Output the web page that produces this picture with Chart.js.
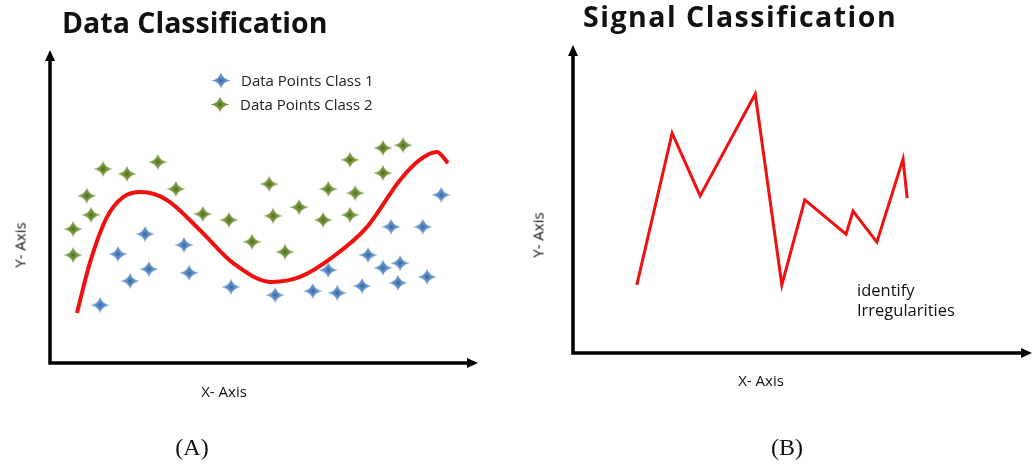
<!DOCTYPE html>
<html>
<head>
<meta charset="utf-8">
<script src="https://cdn.jsdelivr.net/npm/chart.js@4.4.1/dist/chart.umd.min.js"></script>
<style>
  html, body { margin: 0; padding: 0; background: #fff; }
  #page { position: relative; width: 1032px; height: 467px; overflow: hidden; background: #fff; font-family: "Open Sans", "Liberation Sans", sans-serif; }
  .box { position: absolute; top: 0; width: 516px; height: 467px; }
  .t { position: absolute; white-space: nowrap; color: #111; line-height: 1; }
  .title { font-weight: bold; }
  .lbl { font-size: 15px; }
  .cap { font-family: "Liberation Serif", "DejaVu Serif", serif; font-size: 24px; }
  .leg { position: absolute; display: flex; align-items: center; font-size: 15px; color: #222; white-space: nowrap; }
  .leg img { margin-right: 10px; }
</style>
</head>
<body>
<div id="page">
  <div class="box" style="left:0"><canvas id="ca"></canvas></div>
  <div class="box" style="left:516px"><canvas id="cb"></canvas></div>

  <div class="t title" style="left:62px; top:22px; font-size:28.5px; transform:translateY(-50%);">Data Classification</div>
  <div class="t title" style="left:583px; top:16px; font-size:28.5px; letter-spacing:1.5px; transform:translateY(-50%);">Signal Classification</div>

  <div class="leg" id="leg1" style="left:211px; top:80px; transform:translateY(-50%);"><span>Data Points Class 1</span></div>
  <div class="leg" id="leg2" style="left:210px; top:104px; transform:translateY(-50%);"><span>Data Points Class 2</span></div>

  <div class="t lbl" style="left:224px; top:391px; transform:translate(-50%,-50%);">X- Axis</div>
  <div class="t lbl" style="left:20px; top:245px; transform:translate(-50%,-50%) rotate(-90deg);">Y- Axis</div>
  <div class="t lbl" style="left:761px; top:380px; transform:translate(-50%,-50%);">X- Axis</div>
  <div class="t lbl" style="left:538px; top:235px; transform:translate(-50%,-50%) rotate(-90deg);">Y- Axis</div>

  <div class="t lbl" style="left:857px; top:290px; font-size:16.5px; transform:translateY(-50%);">identify</div>
  <div class="t lbl" style="left:857px; top:310px; font-size:16.5px; transform:translateY(-50%);">Irregularities</div>

  <div class="t cap" style="left:192px; top:447px; transform:translate(-50%,-50%);">(A)</div>
  <div class="t cap" style="left:787px; top:447px; transform:translate(-50%,-50%);">(B)</div>
</div>

<script>
// ---- Data (A): classification points and decision curve ----
const class1X = [22.2, 31.3, 15.9, 23.1, 32.5, 18.7, 11.7, 42.3, 52.6, 61.4, 67.1, 65.0, 72.9, 74.3, 77.8, 81.8, 81.3, 88.1, 79.7, 87.1, 91.4];
const class1Y = [41.2, 37.7, 34.8, 30.0, 28.8, 26.2, 18.5, 24.3, 21.7, 23.0, 22.4, 29.7, 24.6, 34.5, 30.4, 31.9, 25.6, 27.5, 43.5, 43.5, 53.7];

const class2X = [12.4, 18.0, 25.2, 29.4, 51.2, 65.0, 70.1, 77.8, 82.5, 77.8, 71.3, 8.6, 9.6, 5.4, 5.4, 35.7, 41.8, 52.1, 58.2, 63.8, 70.1, 47.2, 54.9];
const class2Y = [62.0, 60.4, 64.2, 55.6, 57.2, 55.6, 64.9, 68.7, 69.6, 60.7, 54.3, 53.4, 47.3, 42.8, 34.5, 47.6, 45.7, 47.0, 49.8, 45.7, 47.3, 38.7, 35.5];

const curveX = [6.3, 9.3, 13.3, 17.1, 21.3, 27.3, 35.0, 42.8, 51.9, 58.4, 66.1, 74.1, 81.8, 86.4, 90.4, 93.0];
const curveY = [16.0, 31.9, 46.6, 53.0, 54.6, 52.1, 42.5, 31.9, 25.9, 27.5, 33.9, 43.5, 58.5, 64.9, 67.4, 63.9];

// ---- Data (B): signal ----
const signalX = [13.9, 21.6, 27.7, 39.7, 45.5, 50.5, 59.5, 61.0, 66.2, 71.9, 72.8];
const signalY = [22.1, 71.4, 51.0, 84.1, 22.1, 49.7, 38.6, 46.1, 36.0, 63.0, 50.3];

const seriesNames = ["Data Points Class 1", "Data Points Class 2"];

function zip(xs, ys) { return xs.map((x, i) => ({ x: x, y: ys[i] })); }

function makeStar(outer, inner) {
  const w = 20, h = 17;
  const c = document.createElement('canvas');
  c.width = w; c.height = h;
  const g = c.getContext('2d');
  const cx = w / 2, cy = h / 2;
  const grad = g.createRadialGradient(cx, cy, 0, cx, cy, 9);
  grad.addColorStop(0, inner);
  grad.addColorStop(0.35, outer);
  grad.addColorStop(1, outer);
  g.fillStyle = grad;
  g.beginPath();
  const rx = w / 2 - 0.5, ry = h / 2 - 0.5, r = 1.6;
  g.moveTo(cx, cy - ry);
  g.quadraticCurveTo(cx + r, cy - r, cx + rx, cy);
  g.quadraticCurveTo(cx + r, cy + r, cx, cy + ry);
  g.quadraticCurveTo(cx - r, cy + r, cx - rx, cy);
  g.quadraticCurveTo(cx - r, cy - r, cx, cy - ry);
  g.closePath();
  g.fill();
  return c;
}
const blueStar = makeStar('#5b8fca', '#3a5f8c');
const greenStar = makeStar('#73963a', '#4b6623');

function addLegendStar(id, star) {
  const img = document.createElement('img');
  img.src = star.toDataURL();
  img.width = star.width; img.height = star.height;
  const el = document.getElementById(id);
  el.insertBefore(img, el.firstChild);
}
addLegendStar('leg1', blueStar);
addLegendStar('leg2', greenStar);

const arrowAxes = {
  id: 'arrowAxes',
  beforeDatasetsDraw(chart, args, opts) {
    const a = chart.chartArea, ctx = chart.ctx;
    ctx.save();
    ctx.strokeStyle = '#000';
    ctx.fillStyle = '#000';
    ctx.lineWidth = opts.lw || 3.5;
    ctx.lineCap = 'butt';
    const hl = 11, hw = 5;
    ctx.beginPath();
    ctx.moveTo(a.left, a.top + hl - 1);
    ctx.lineTo(a.left, a.bottom);
    ctx.lineTo(a.right - hl + 1, a.bottom);
    ctx.stroke();
    ctx.beginPath();
    ctx.moveTo(a.left, a.top);
    ctx.lineTo(a.left + hw, a.top + hl);
    ctx.lineTo(a.left - hw, a.top + hl);
    ctx.closePath();
    ctx.fill();
    ctx.beginPath();
    ctx.moveTo(a.right, a.bottom);
    ctx.lineTo(a.right - hl, a.bottom - hw);
    ctx.lineTo(a.right - hl, a.bottom + hw);
    ctx.closePath();
    ctx.fill();
    ctx.restore();
  }
};

function baseOptions(pad) {
  return {
    responsive: true,
    maintainAspectRatio: false,
    animation: false,
    events: [],
    layout: { padding: pad, autoPadding: false },
    plugins: { legend: { display: false }, tooltip: { enabled: false }, title: { display: false } },
    scales: {
      x: { type: 'linear', min: 0, max: 100, display: false },
      y: { type: 'linear', min: 0, max: 100, display: false }
    }
  };
}

const optsA = baseOptions({ left: 50, top: 50, right: 38, bottom: 104 });
optsA.plugins.arrowAxes = { lw: 3.5 };
new Chart(document.getElementById('ca'), {
  type: 'scatter',
  data: {
    datasets: [
      { label: 'Boundary', data: zip(curveX, curveY), showLine: true, borderColor: '#f0100f', borderWidth: 4,
        pointRadius: 0, cubicInterpolationMode: 'monotone', fill: false, clip: false, order: 3 },
      { label: seriesNames[0], data: zip(class1X, class1Y), pointStyle: blueStar, pointRadius: 9, clip: false, order: 1 },
      { label: seriesNames[1], data: zip(class2X, class2Y), pointStyle: greenStar, pointRadius: 9, clip: false, order: 2 }
    ]
  },
  options: optsA,
  plugins: [arrowAxes]
});

const optsB = baseOptions({ left: 57, top: 45, right: 0, bottom: 114 });
optsB.plugins.arrowAxes = { lw: 3.5 };
new Chart(document.getElementById('cb'), {
  type: 'scatter',
  data: {
    datasets: [
      { label: 'Signal', data: zip(signalX, signalY), showLine: true, borderColor: '#f0100f', borderWidth: 3,
        pointRadius: 0, tension: 0, fill: false, clip: false, borderJoinStyle: 'miter' }
    ]
  },
  options: optsB,
  plugins: [arrowAxes]
});
</script>
</body>
</html>
